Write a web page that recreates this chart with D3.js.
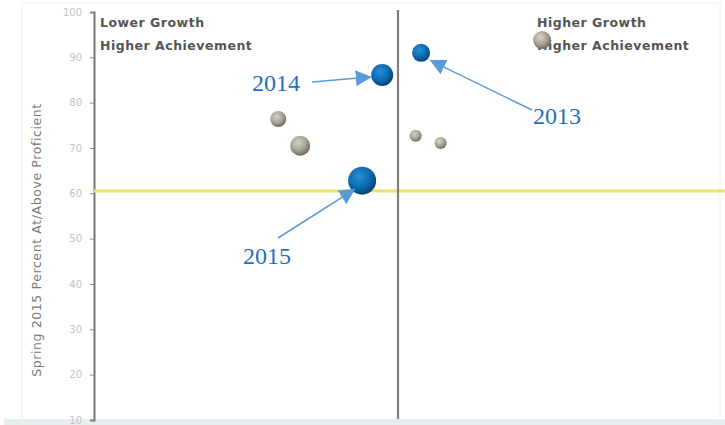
<!DOCTYPE html>
<html><head><meta charset="utf-8">
<script src="https://cdn.jsdelivr.net/npm/d3@7"></script>
<style>body{margin:0;background:#fff;}svg{display:block;}</style>
</head><body>
<svg id="c" width="725" height="425"></svg>
<script>
// Data
const yTicks = [10,20,30,40,50,60,70,80,90,100];
const labels = ["2013","2014","2015"];
const blueGrowth = [53.8, 47.4, 44.1];
const blueAch    = [91.0, 86.1, 62.8];
const blueSize   = [9, 11, 14];
const greyGrowth = [30.3, 33.9, 52.9, 57.0, 73.7];
const greyAch    = [76.4, 70.5, 72.7, 71.1, 93.8];
const greySize   = [8, 10, 6, 6, 9];
const medianGrowth = 50;
const targetAch = 60.5;
const yTitle = "Spring 2015 Percent At/Above Proficient";

const svg = d3.select("#c");
const x = d3.scaleLinear().domain([0,100]).range([94,702]);
const y = d3.scaleLinear().domain([10,100]).range([420,12]);
const r = d3.scaleLinear().domain([0,14]).range([0,14]);

const defs = svg.append("defs");
function grad(id, c0, c1, c2){
  const g = defs.append("radialGradient").attr("id",id).attr("cx","40%").attr("cy","35%").attr("r","65%");
  g.append("stop").attr("offset","0%").attr("stop-color",c0);
  g.append("stop").attr("offset","60%").attr("stop-color",c1);
  g.append("stop").attr("offset","100%").attr("stop-color",c2);
}
grad("gb","#2a8fd6","#0a6cb3","#06436f");
grad("gg","#d6d2c8","#a8a294","#6f6a5e");
const mk = defs.append("marker").attr("id","ar").attr("viewBox","0 0 10 10").attr("refX",9).attr("refY",5)
  .attr("markerWidth",16).attr("markerHeight",16).attr("markerUnits","userSpaceOnUse").attr("orient","auto");
mk.append("path").attr("d","M0,0L10,5L0,10z").attr("fill","#5b9bd5");

// frame
svg.append("rect").attr("x",22).attr("y",3).attr("width",698).attr("height",420).attr("fill","#fff").attr("stroke","#f0f0ea");
svg.append("rect").attr("x",4).attr("y",419).attr("width",721).attr("height",6).attr("fill","#e6eef0");

// axis
const ax = svg.append("g").attr("transform","translate(94,0)")
  .call(d3.axisLeft(y).tickValues(yTicks).tickSize(4).tickFormat(d3.format("d")));
ax.select(".domain").attr("stroke","#777").attr("stroke-width",2);
ax.selectAll(".tick line").attr("stroke","#888");
ax.selectAll(".tick text").attr("fill","#c4c4c4").attr("font-family","Verdana, DejaVu Sans, sans-serif").attr("font-size",10).attr("x",-12);

svg.append("text").attr("transform","translate(41,240) rotate(-90)").attr("text-anchor","middle")
  .attr("font-family","Verdana, DejaVu Sans, sans-serif").attr("font-size",12.5).attr("letter-spacing",0.6)
  .attr("fill","#7a7a7a").text(yTitle);

// reference lines
svg.append("line").attr("x1",94).attr("x2",725).attr("y1",y(targetAch)).attr("y2",y(targetAch))
  .attr("stroke","#ebe36a").attr("stroke-width",3);
svg.append("line").attr("x1",x(medianGrowth)).attr("x2",x(medianGrowth)).attr("y1",10).attr("y2",419)
  .attr("stroke","#857d76").attr("stroke-width",2.2);

// quadrant labels
const qf = {"font-family":"Verdana, DejaVu Sans, sans-serif","font-size":12.5,"font-weight":"bold","fill":"#555","letter-spacing":0.5};
function qt(tx,ty,s){const t=svg.append("text").attr("x",tx).attr("y",ty).text(s);for(const k in qf)t.attr(k,qf[k]);}
qt(100,27,"Lower Growth"); qt(100,50,"Higher Achievement");
qt(537,27,"Higher Growth"); qt(537,50,"Higher Achievement");

// bubbles
svg.selectAll("circle.g").data(greyGrowth).join("circle").attr("class","g")
  .attr("cx",d=>x(d)).attr("cy",(d,i)=>y(greyAch[i])).attr("r",(d,i)=>r(greySize[i])).attr("fill","url(#gg)");
svg.selectAll("circle.b").data(blueGrowth).join("circle").attr("class","b")
  .attr("cx",d=>x(d)).attr("cy",(d,i)=>y(blueAch[i])).attr("r",(d,i)=>r(blueSize[i])).attr("fill","url(#gb)");

// annotations
const ann = [
  {i:0, tx:557, ty:124, ax1:532, ay1:110, dx:10, dy:8},
  {i:1, tx:276, ty:91, ax1:312, ay1:82, dx:-12, dy:2},
  {i:2, tx:267, ty:264, ax1:278, ay1:238, dx:-8, dy:9}
];
ann.forEach(a=>{
  const cx=x(blueGrowth[a.i]), cy=y(blueAch[a.i]);
  svg.append("line").attr("x1",a.ax1).attr("y1",a.ay1).attr("x2",cx+a.dx).attr("y2",cy+a.dy)
    .attr("stroke","#5b9bd5").attr("stroke-width",1.5).attr("marker-end","url(#ar)");
  svg.append("text").attr("x",a.tx).attr("y",a.ty).attr("text-anchor","middle")
    .attr("font-family","Liberation Serif, Times New Roman, serif").attr("font-size",24).attr("fill","#1f6fbf").text(labels[a.i]);
});
</script>
</body></html>
